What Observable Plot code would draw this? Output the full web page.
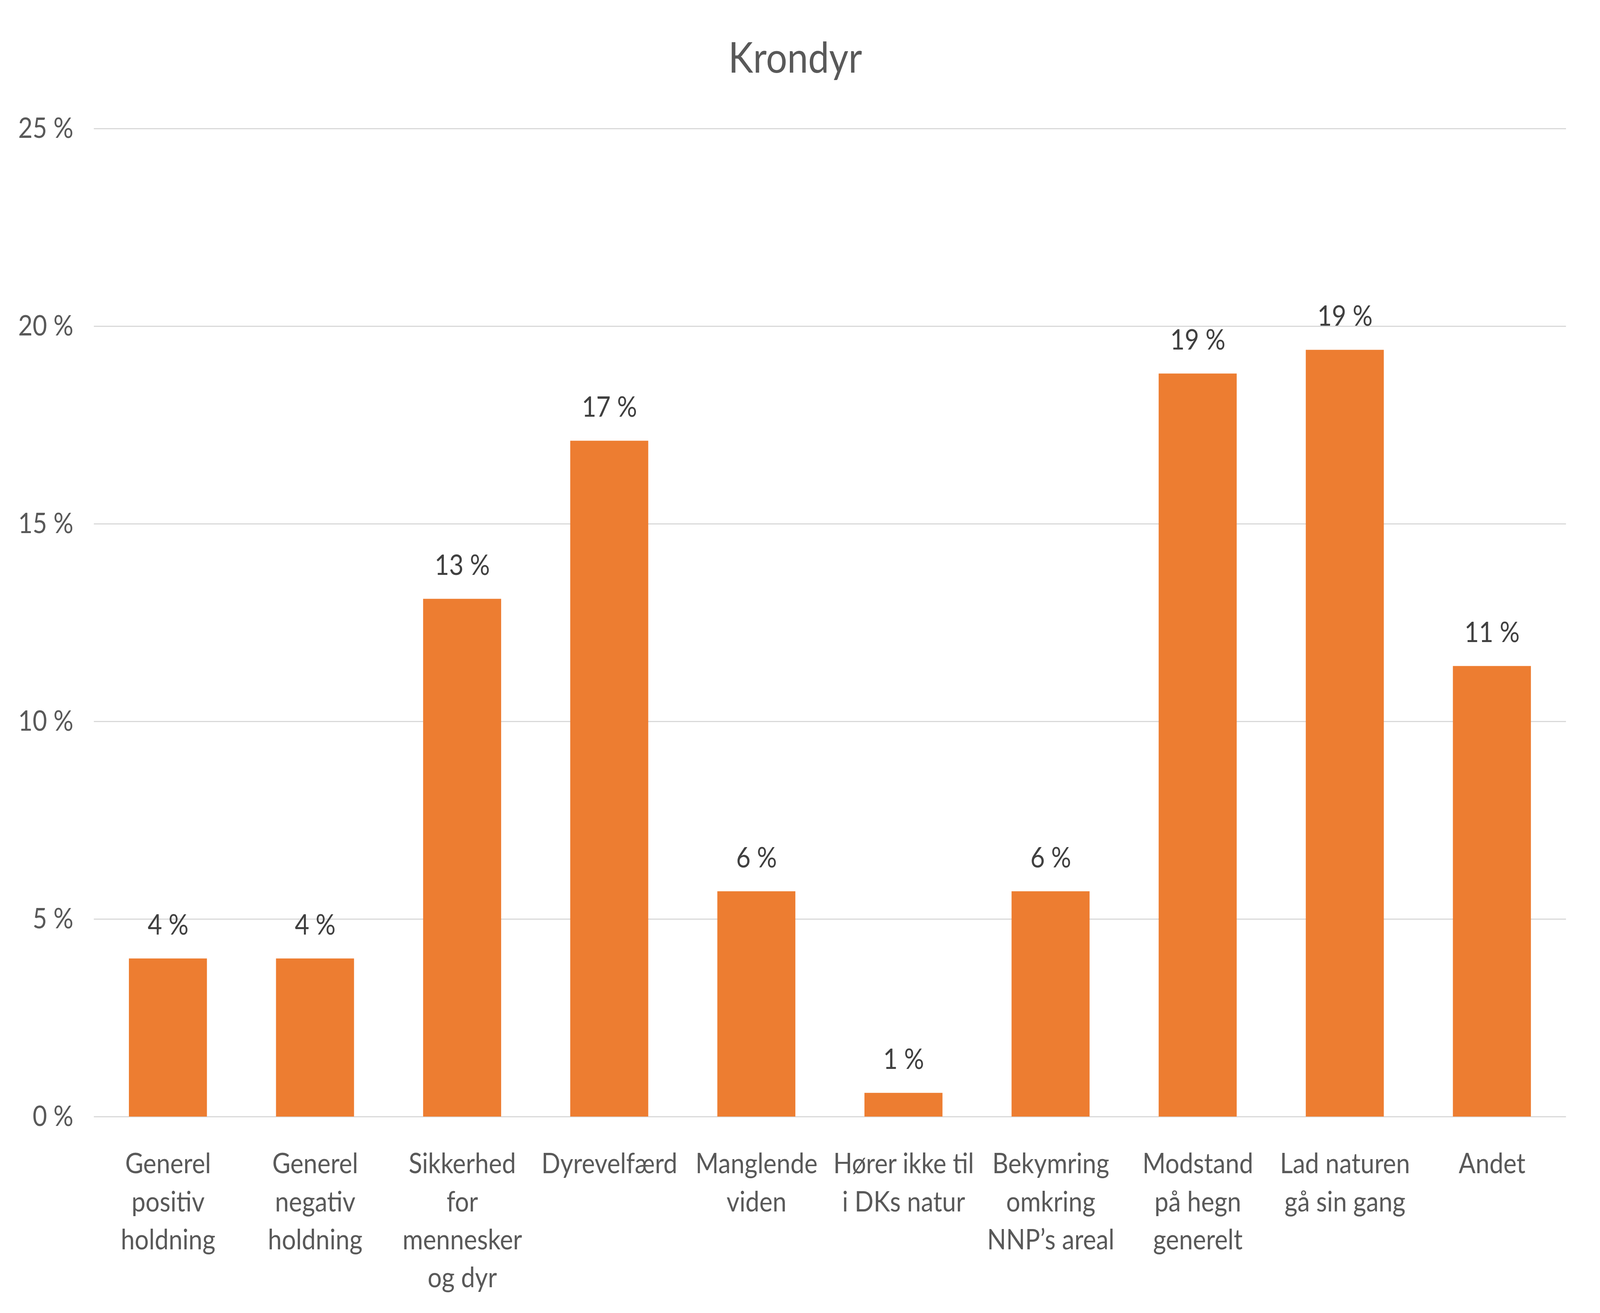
<!DOCTYPE html>
<html>
<head>
<meta charset="utf-8">
<script src="https://cdn.jsdelivr.net/npm/d3@7"></script>
<script src="https://cdn.jsdelivr.net/npm/@observablehq/plot@0.6"></script>
<style>
  html, body { margin: 0; padding: 0; background: #fff; overflow: hidden; }
  #wrap { position: absolute; left: 0; top: 0; width: 4655px; height: 3362px; transform-origin: 0 0; font-family: Lato, "Open Sans", sans-serif; background: #fff; }
  #title { margin: 0; padding-top: 89px; height: 109px; line-height: 109px; font-size: 109px; color: #595959; text-align: center; font-weight: normal; position: relative; left: -14px; }
  #chart svg { display: block; }
</style>
</head>
<body>
<div id="wrap">
  <div id="title">Krondyr</div>
  <div id="chart"></div>
</div>
<script>
const categories = [
  "Generel positiv holdning",
  "Generel negativ holdning",
  "Sikkerhed for mennesker og dyr",
  "Dyrevelfærd",
  "Manglende viden",
  "Hører ikke til i DKs natur",
  "Bekymring omkring NNP’s areal",
  "Modstand på hegn generelt",
  "Lad naturen gå sin gang",
  "Andet"
];
const tickLabels = [
  "Generel\npositiv\nholdning",
  "Generel\nnegativ\nholdning",
  "Sikkerhed\nfor\nmennesker\nog dyr",
  "Dyrevelfærd",
  "Manglende\nviden",
  "Hører ikke til\ni DKs natur",
  "Bekymring\nomkring\nNNP’s areal",
  "Modstand\npå hegn\ngenerelt",
  "Lad naturen\ngå sin gang",
  "Andet"
];
const values = [4.0, 4.0, 13.1, 17.1, 5.7, 0.6, 5.7, 18.8, 19.4, 11.4];
const yTicks = [0, 5, 10, 15, 20, 25];

const data = categories.map((c, i) => ({category: c, value: values[i], label: tickLabels[i]}));
const labelOf = new Map(data.map(d => [d.category, d.label]));

// fit the 4655×3362 design into whatever viewport the browser gives
const W = document.documentElement.clientWidth || window.innerWidth;
const H = window.innerHeight || document.documentElement.clientHeight;
document.getElementById("wrap").style.transform = `scale(${W / 4655}, ${H / 3362})`;

const fs = 72.5;

const chart = Plot.plot({
  width: 4655,
  height: 3164,
  marginTop: 131,
  marginBottom: 503,
  marginLeft: 273,
  marginRight: 99,
  style: {fontFamily: "Lato, 'Open Sans', sans-serif", background: "#fff"},
  x: {domain: categories, paddingInner: 0.47, paddingOuter: 0.235, axis: null},
  y: {domain: [0, 25], axis: null},
  marks: [
    Plot.gridY(yTicks, {stroke: "#D9D9D9", strokeOpacity: 1, strokeWidth: 3}),
    Plot.barY(data, {x: "category", y: "value", fill: "#ED7D31"}),
    Plot.text(data, {
      x: "category", y: "value",
      text: d => `${Math.round(d.value)} %`,
      dy: -62, lineAnchor: "bottom",
      fontSize: fs, fill: "#404040"
    }),
    Plot.axisY(yTicks, {
      tickSize: 0, tickPadding: 60,
      tickFormat: d => `${d} %`,
      fontSize: fs, fill: "#595959", label: null
    }),
    Plot.axisX({
      tickSize: 0, tickPadding: 76,
      tickFormat: d => labelOf.get(d),
      fontSize: fs, fill: "#595959", lineHeight: 1.34, label: null
    })
  ]
});
document.getElementById("chart").appendChild(chart);
</script>
</body>
</html>
